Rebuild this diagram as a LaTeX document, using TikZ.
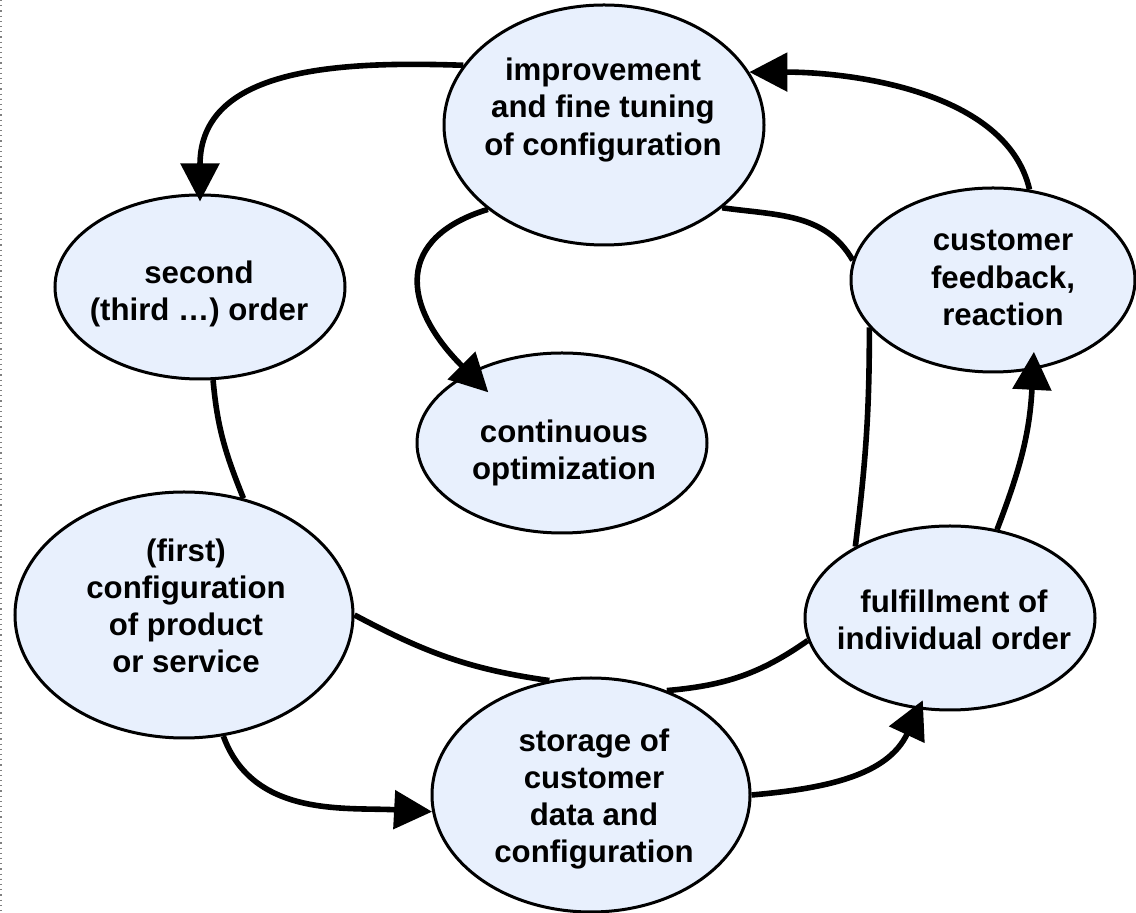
\documentclass[tikz,border=0pt]{standalone}
\usepackage{fontspec}
\setmainfont{Liberation Sans}
\usetikzlibrary{shapes.geometric,arrows.meta}
\definecolor{blobfill}{RGB}{232,240,253}
\tikzstyle{blob}=[ellipse,draw=black,line width=1.5pt,fill=blobfill,inner sep=0pt]
\tikzstyle{caption}=[align=center,font=\fontsize{15.6}{18.6}\selectfont\bfseries]
\tikzstyle{ring}=[line width=2.8pt]
\tikzstyle{post}=[ring,-{Triangle[length=19pt,width=19pt]}]

\begin{document}
\begin{tikzpicture}[x=0.5pt,y=0.5pt]
            \useasboundingbox (0,0) rectangle (1136,-913);
            \draw[gray,dotted,line width=0.6pt] (1,0) -- (1,-913);

            \node (imp) [blob,minimum width=160pt,minimum height=120pt] at (604,-125) {};
            \node (sec) [blob,minimum width=145pt,minimum height=92pt] at (200,-287) {};
            \node (cust) [blob,minimum width=142pt,minimum height=92pt] at (993,-280) {};
            \node (cont) [blob,minimum width=145pt,minimum height=90pt] at (562,-443) {};
            \node (first) [blob,minimum width=169pt,minimum height=123pt] at (184,-615) {};
            \node (stor) [blob,minimum width=159pt,minimum height=117pt] at (591,-795) {};
            \node (ful) [blob,minimum width=145pt,minimum height=92pt] at (950,-618) {};

            \node (impT) [caption] at (603,-110) {improvement\\and fine tuning\\of configuration};
            \node (secT) [caption] at (199,-294) {second\\(third …) order};
            \node (custT) [caption] at (1003,-278) {customer\\feedback,\\reaction};
            \node (contT) [caption] at (564,-453) {continuous\\optimization};
            \node (firstT) [caption] at (186,-606) {(first)\\configuration\\of product\\or service};
            \node (storT) [caption] at (594,-799) {storage of\\customer\\data and\\configuration};
            \node (fulT) [caption] at (954,-620) {fulfillment of\\individual order};

            % inner ring, no tips
            \path[ring] (sec.278) edge [out=275,in=112] (first.63);
            \path[ring] (first.east) edge [out=332,in=172] (stor.110);
            \path[ring] (stor.54) edge [out=5,in=215] (ful.189);
            \path[ring] (ful.143) edge [out=83,in=270] (cust.201);
            \path[ring] (imp.325) edge [out=352,in=120] (cust.172);

            \path[post] (first.288) edge [out=290,in=177] (stor.186);
            \path[post] (stor.east) edge [out=5,in=245,shorten >=-5pt] (ful.251);
            \path[post] (ful.62) edge [out=69,in=267,shorten >=-9pt] (cust.294);
            \path[post] (cust.68) edge [out=103,in=0,looseness=0.85] (imp.20);
            \path[post] (imp.157) edge [out=178,in=90,looseness=1.1,shorten >=-4pt] (sec.north);
            \path[post] (imp.216) edge [out=197,in=135,looseness=1.5,shorten >=-14pt] (cont.143);
\end{tikzpicture}
\end{document}
